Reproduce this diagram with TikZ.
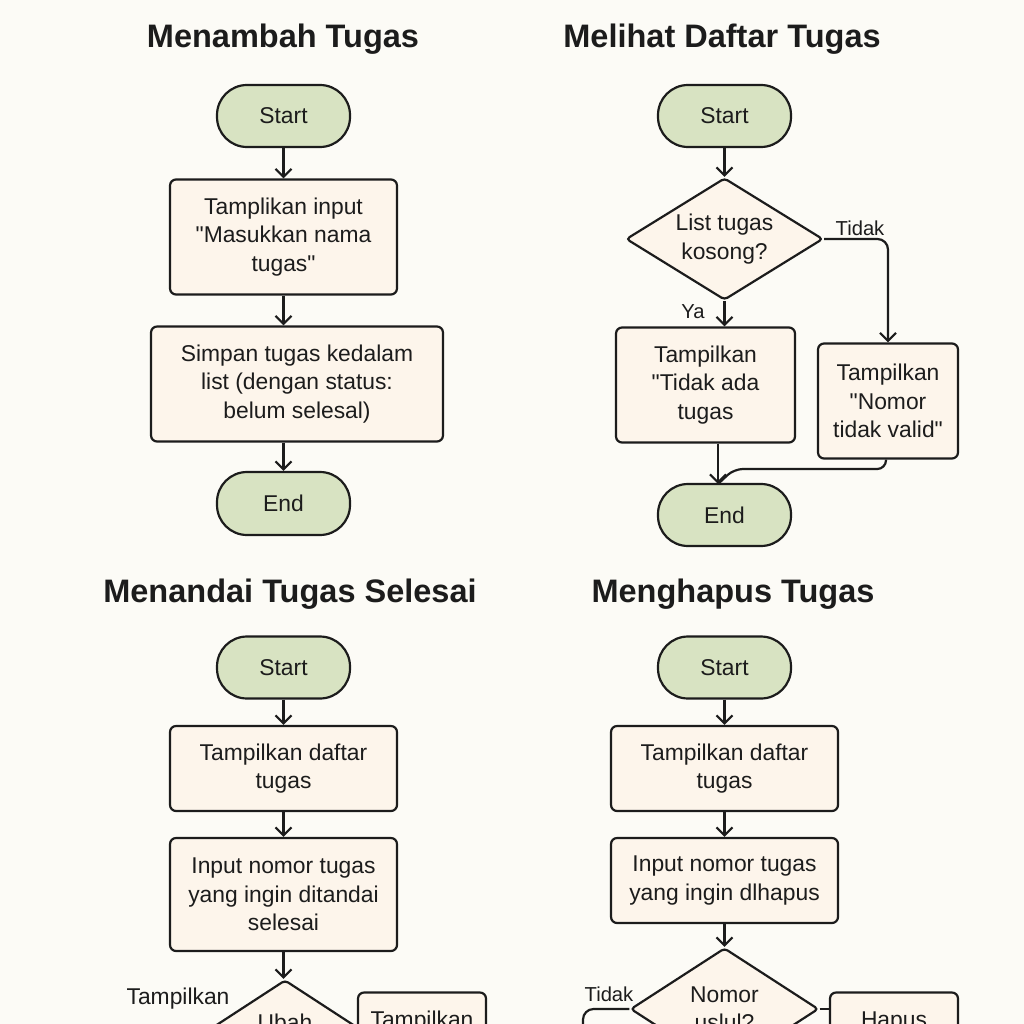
\documentclass[tikz,border=0pt]{standalone}
\usepackage{fontspec}
\setmainfont{Liberation Sans}[Ligatures=TeXOff]
\usetikzlibrary{arrows.meta,shapes.geometric}
\definecolor{bgcol}{HTML}{FCFBF6}
\definecolor{boxfill}{HTML}{FDF5EB}
\definecolor{termfill}{HTML}{D8E3C2}
\definecolor{inkcol}{HTML}{1C1C1C}
\tikzset{
  body/.style={font=\fontsize{13pt}{16.2pt}\selectfont, text=inkcol},
  term/.style={draw=inkcol, fill=termfill, line width=1.25pt, rounded corners=0.6cm,
    minimum width=2.66cm, minimum height=1.24cm, inner sep=0pt, body},
  box/.style={draw=inkcol, fill=boxfill, line width=1.25pt, rounded corners=0.12cm,
    align=center, inner sep=0pt, body},
  dia/.style={draw=inkcol, fill=boxfill, line width=1.25pt, diamond, rounded corners=2pt,
    align=center, inner sep=0pt, body},
  txt/.style={align=center, inner sep=0pt, body},
  lbl/.style={inner sep=0pt, text=inkcol, font=\fontsize{11.5pt}{14pt}\selectfont},
  title/.style={inner sep=0pt, anchor=base, text=inkcol, font=\fontsize{18.5pt}{22pt}\selectfont\bfseries},
  arr/.style={draw=inkcol, line width=1.25pt, -{Straight Barb[length=1.6mm,width=3.2mm]}},
  ln/.style={draw=inkcol, line width=1.25pt},
}
\begin{document}
\begin{tikzpicture}[x=0.02cm,y=-0.02cm]
\fill[bgcol] (0,0) rectangle (1024,1024);
\useasboundingbox (0,0) rectangle (1024,1024);
\clip (0,0) rectangle (1024,1024);

% ---------- Menambah Tugas ----------
\node[title] (t1) at (283,48) {Menambah Tugas};
\node[term] (s1) at (283.5,116) {Start};
\node[box, minimum width=4.54cm, minimum height=2.30cm] (b1) at (283.5,237)
  {Tamplikan input\\"Masukkan nama\\tugas"};
\node[box, minimum width=5.84cm, minimum height=2.30cm] (b2) at (297,384)
  {Simpan tugas kedalam\\list (dengan status:\\belum selesal)};
\node[term, minimum height=1.26cm] (e1) at (283.5,503.5) {End};
\draw[arr] (s1.south) -- (b1.north);
\draw[arr] (b1.south) -- (b1.south |- b2.north);
\draw[arr] (e1.north |- b2.south) -- (e1.north);

% ---------- Melihat Daftar Tugas ----------
\node[title] (t2) at (722,48) {Melihat Daftar Tugas};
\node[term] (s2) at (724.5,116) {Start};
\node[dia, aspect=1.6, minimum width=3.94cm, minimum height=2.44cm] (d1) at (724.5,239)
  {List tugas\\kosong?};
\node[box, minimum width=3.58cm, minimum height=2.30cm] (ta) at (705.5,385)
  {Tampilkan\\"Tidak ada\\tugas};
\node[box, minimum width=2.80cm, minimum height=2.30cm] (nv) at (888,401)
  {Tampilkan\\"Nomor\\tidak valid"};
\node[term] (e2) at (724.5,515) {End};
\coordinate (j) at (718,484);
\draw[arr] (s2.south) -- (d1.north);
\draw[arr] (d1.south) -- (d1.south |- ta.north);
\draw[arr, rounded corners=6pt] (d1.east) -| (nv.north);
\draw[arr] (j |- ta.south) -- (j);
\draw[ln, rounded corners=5pt] (nv.south -| 886,0) -- (886,469) -- (734,469) -- (j);
\node[lbl] (ltidak1) at (860,228) {Tidak};
\node[lbl] (lya) at (693,312) {Ya};

% ---------- Menandai Tugas Selesai ----------
\node[title] (t3) at (290,602) {Menandai Tugas Selesai};
\node[term] (s3) at (283.5,667.5) {Start};
\node[box, minimum width=4.54cm, minimum height=1.70cm] (b3) at (283.5,768.5)
  {Tampilkan daftar\\tugas};
\node[box, minimum width=4.54cm, minimum height=2.26cm] (b4) at (283.5,894.5)
  {Input nomor tugas\\yang ingin ditandai\\selesai};
\node[dia, aspect=1.56, minimum width=3.0cm, minimum height=1.96cm] (d2) at (285,1029) {};
\node[txt] (d2t) at (285,1022) {Ubah};
\node[box, minimum width=2.56cm, minimum height=2.30cm] (b5) at (422,1050) {};
\node[txt] (b5t) at (422,1022) {Tampilkan};
\node[txt] (l3) at (178,999) {Tampilkan};
\draw[arr] (s3.south) -- (b3.north);
\draw[arr] (b3.south) -- (b4.north);
\draw[arr] (b4.south) -- (b4.south |- d2.north);

% ---------- Menghapus Tugas ----------
\node[title] (t4) at (733,602) {Menghapus Tugas};
\node[term] (s4) at (724.5,667.5) {Start};
\node[box, minimum width=4.54cm, minimum height=1.70cm] (b6) at (724.5,768.5)
  {Tampilkan daftar\\tugas};
\node[box, minimum width=4.54cm, minimum height=1.70cm] (b7) at (724.5,880.5)
  {Input nomor tugas\\yang ingin dlhapus};
\node[dia, aspect=1.55, minimum width=3.76cm, minimum height=2.44cm] (d3) at (724.5,1009)
  {Nomor\\uslul?};
\node[box, minimum width=2.56cm, minimum height=2.30cm] (hp) at (894,1050) {};
\node[txt] (hpt) at (894,1022) {Hapus};
\node[lbl] (ltidak2) at (609,994) {Tidak};
\draw[arr] (s4.south) -- (b6.north);
\draw[arr] (b6.south) -- (b7.north);
\draw[arr] (b7.south) -- (d3.north);
\draw[ln, rounded corners=6pt] (d3.west) -- (583,1009) -- (583,1100);
\draw[ln] (d3.east) -- (d3.east -| hp.west);
\end{tikzpicture}
\end{document}
